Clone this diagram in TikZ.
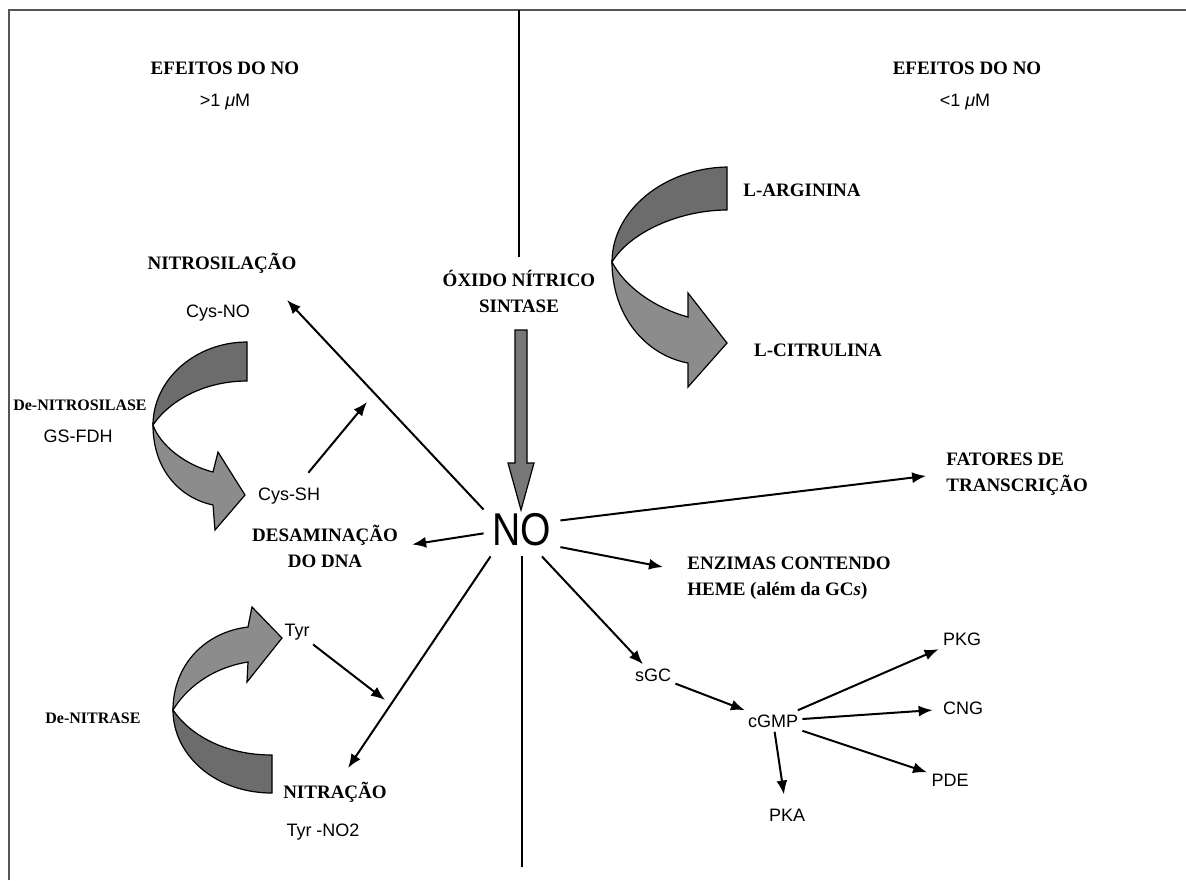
\documentclass[tikz,border=0pt]{standalone}
\usepackage{fontspec}
\setmainfont{Liberation Serif}
\setsansfont{Liberation Sans}
\usetikzlibrary{arrows.meta}
\definecolor{bandDark}{RGB}{108,108,108}
\definecolor{bandLight}{RGB}{140,140,140}
\definecolor{shaftGray}{RGB}{120,120,120}
\definecolor{frameGray}{RGB}{85,85,85}

\begin{document}
\begin{tikzpicture}[x=0.5pt, y=-0.5pt,
    boldlbl/.style={font=\fontsize{9.5}{13}\selectfont\bfseries, align=center, inner sep=2pt},
    sanslbl/.style={font=\fontsize{9}{11}\selectfont\sffamily, inner sep=2pt},
    conn/.style={-{Latex[length=7pt,width=5.5pt]}, line width=1pt},
    darkband/.style={fill=bandDark, draw=black, line width=0.6pt},
    lightband/.style={fill=bandLight, draw=black, line width=0.6pt}]
    \useasboundingbox (0,0) rectangle (1186,880);

    % Frame
    \draw[frameGray, line width=1.1pt] (9,880) -- (9,10) -- (1186,10);

    % Headers
    \node[boldlbl] (effL) at (225,68) {EFEITOS DO NO};
    \node[sanslbl] (umL) at (225,102) {>1 \textit{μ}M};
    \node[boldlbl] (effR) at (967,68) {EFEITOS DO NO};
    \node[sanslbl] (umR) at (965,102) {<1 \textit{μ}M};

    % Centre
    \node[boldlbl] (sint) at (519,291) {ÓXIDO NÍTRICO\\SINTASE};
    \node[font=\fontsize{23}{23}\selectfont\sffamily, minimum width=38pt,
          minimum height=26pt, inner sep=0pt] (no) at (522,530) {\scalebox{0.85}[1]{NO}};
    \coordinate (axisTop) at (519,10);
    \coordinate (axisBot) at (522,867);
    \draw[line width=0.8pt, shorten >=4pt] (axisTop) -- (sint.north);
    \draw[line width=1.4pt] (no.south) -- (axisBot);
    \draw[fill=shaftGray, draw=black, line width=0.6pt]
        (515,330) -- (527,330) -- (527,463) -- (534,463) -- (521,510)
        -- (508,463) -- (515,463) -- cycle;

    % L-arginina -> L-citrulina
    \node[boldlbl] (larg) at (802,190) {L-ARGININA};
    \node[boldlbl] (lcit) at (818,350) {L-CITRULINA};
    \draw[darkband] (727,167) .. controls (665,168) and (612,210) .. (612,262)
        .. controls (630,232) and (680,210) .. (727,210) -- cycle;
    \draw[lightband] (612,262) .. controls (612,315) and (645,355) .. (688,363)
        -- (688,387) -- (727,343) -- (688,293) -- (688,317)
        .. controls (655,308) and (625,287) .. (612,262) -- cycle;

    % Nitrosilacao
    \node[boldlbl] (nitros) at (222,263) {NITROSILAÇÃO};
    \node[sanslbl] (cysno) at (218,313) {Cys-NO};
    \node[boldlbl, font=\fontsize{8}{10}\selectfont\bfseries] (denit) at (80,405) {De-NITROSILASE};
    \node[sanslbl] (gsfdh) at (78,436) {GS-FDH};
    \node[sanslbl] (cyssh) at (289,496) {Cys-SH};
    \draw[darkband] (247,342) .. controls (195,342) and (153,380) .. (153,425)
        .. controls (170,400) and (205,381) .. (247,381) -- cycle;
    \draw[lightband] (153,425) .. controls (153,470) and (180,498) .. (213,505)
        -- (215,530) -- (245,495) -- (218,452) -- (213,472)
        .. controls (185,465) and (160,445) .. (153,425) -- cycle;

    % Desaminacao
    \node[boldlbl] (desam) at (325,546) {DESAMINAÇÃO\\DO DNA};

    % Nitracao
    \node[boldlbl, font=\fontsize{8}{10}\selectfont\bfseries] (denitr) at (93,718) {De-NITRASE};
    \node[sanslbl] (tyr) at (297,632) {Tyr};
    \node[boldlbl] (nitrac) at (335,792) {NITRAÇÃO};
    \node[sanslbl] (tyrno) at (323,832) {Tyr -NO2};
    \draw[darkband] (272,793) .. controls (215,793) and (173,755) .. (173,710)
        .. controls (190,735) and (225,755) .. (272,755) -- cycle;
    \draw[lightband] (173,710) .. controls (173,665) and (205,632) .. (248,627)
        -- (252,607) -- (282,638) -- (247,682) -- (248,662)
        .. controls (210,668) and (185,690) .. (173,710) -- cycle;

    % Right side
    \node[boldlbl, align=left, anchor=west] (fatores) at (942,474) {FATORES DE\\TRANSCRIÇÃO};
    \node[boldlbl, align=left, anchor=west] (enz) at (683,578) {ENZIMAS CONTENDO\\HEME (além da GC\textit{s})};
    \node[sanslbl] (sgc) at (653,675) {sGC};
    \node[sanslbl] (cgmp) at (773,721) {cGMP};
    \node[sanslbl] (pkg) at (962,639) {PKG};
    \node[sanslbl] (cng) at (963,708) {CNG};
    \node[sanslbl] (pde) at (950,780) {PDE};
    \node[sanslbl] (pka) at (787,815) {PKA};

    % Connectors
    \coordinate (nitroTip) at (287,300);
    \coordinate (cysTip) at (367,402);
    \coordinate (enzTip) at (663,567);
    \coordinate (nitraTip) at (348,768);
    \coordinate (tyrTip) at (385,700);
    \draw[conn] (no.152) -- (nitroTip);
    \draw[conn, shorten <=7pt] (cyssh) -- (cysTip);
    \draw[conn, shorten >=5pt] (no.185) -- (desam.east);
    \draw[conn, shorten >=8pt] (no.14) -- (fatores.west);
    \draw[conn] (no.336) -- (enzTip);
    \draw[conn] (no.307) -- (sgc);
    \draw[conn] (no.220) -- (nitraTip);
    \draw[conn] (tyr) -- (tyrTip);
    \draw[conn] (sgc) -- (cgmp);
    \draw[conn] (cgmp) -- (pkg);
    \draw[conn, shorten >=3pt] (cgmp) -- (cng);
    \draw[conn] (cgmp) -- (pde);
    \draw[conn, shorten >=5pt] (cgmp) -- (pka);
\end{tikzpicture}
\end{document}
